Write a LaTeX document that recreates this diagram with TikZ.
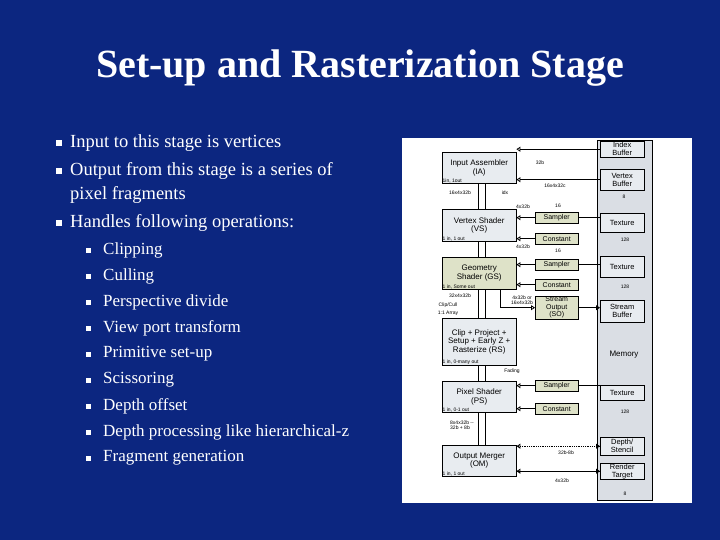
\documentclass[tikz,border=0pt]{standalone}
\usepackage{fontspec}
\setmainfont{Liberation Serif}
\newfontfamily\dsans{Liberation Sans}
\usetikzlibrary{arrows.meta}
\definecolor{bg}{RGB}{12,38,128}
\definecolor{memg}{RGB}{218,222,228}
\definecolor{boxg}{RGB}{232,236,240}
\definecolor{grn}{RGB}{222,226,200}
\begin{document}
\begin{tikzpicture}[x=1pt,y=-1pt,
  btxt/.style={text=white,anchor=west,font=\fontsize{18.5}{20}\selectfont,inner sep=0},
  stxt/.style={text=white,anchor=west,font=\fontsize{17}{19}\selectfont,inner sep=0},
  bul/.style={fill=white,minimum size=6pt,inner sep=0},
  sbul/.style={fill=white,minimum size=5pt,inner sep=0},
  stage/.style={draw=black,fill=boxg,minimum width=74pt,align=center,inner sep=1pt,font=\dsans\fontsize{8}{8.5}\selectfont,anchor=north west},
  mid/.style={draw=black,fill=grn,minimum width=43pt,align=center,inner sep=0.5pt,font=\dsans\fontsize{7}{7.5}\selectfont,anchor=north west},
  res/.style={draw=black,fill=boxg,minimum width=44pt,align=center,inner sep=0.5pt,font=\dsans\fontsize{7.5}{8}\selectfont,anchor=north west},
  lab/.style={font=\dsans\fontsize{5}{5.5}\selectfont,inner sep=0.5pt},
  ar/.style={-{Triangle[open,length=4pt,width=5pt]},thick},
  war/.style={-{Triangle[open,length=4pt,width=5pt]},thick,densely dotted}]
\useasboundingbox (0,0) rectangle (720,540);
\fill[bg] (0,0) rectangle (720,540);
\node (title) [text=white,font=\bfseries\fontsize{40}{42}\selectfont] at (360,68) {Set-up and Rasterization Stage};
% bullets
\node (b1) [bul] at (59,143) {}; \node (t1) [btxt] at (70,143) {Input to this stage is vertices};
\node (b2) [bul] at (59,171) {}; \node (t2) [btxt] at (70,171) {Output from this stage is a series of};
\node (t2b) [btxt] at (70,195) {pixel fragments};
\node (b3) [bul] at (59,223) {}; \node (t3) [btxt] at (70,223) {Handles following operations:};
\foreach \t [count=\i] in {Clipping,Culling,Perspective divide,View port transform,Primitive set-up,Scissoring,Depth offset,Depth processing like hierarchical-z,Fragment generation}{
  \node (sb\i) [sbul] at (88,{224+26*\i}) {};
  \node (st\i) [stxt] at (103,{224+26*\i}) {\t};
}
% diagram panel
\fill[white] (402,138) rectangle (692,503);
\fill[memg] (597,140) rectangle (652,500);
\draw (597,140) rectangle (652,500);
\node (mem) [font=\dsans\fontsize{8}{8}\selectfont] at (624,355) {Memory};
% bus
\draw[thick] (478,183) -- (478,445);
\draw[thick] (485,183) -- (485,445);
% stages
\node (ia) [stage,minimum height=31pt] at (442,152) {Input Assembler\\(IA)};
\node (vs) [stage,minimum height=32pt] at (442,209) {Vertex Shader\\(VS)};
\node (gs) [stage,fill=grn,minimum height=32pt] at (442,257) {Geometry\\Shader (GS)};
\node (rs) [stage,minimum height=47pt] at (442,318) {Clip + Project +\\Setup + Early Z +\\Rasterize (RS)};
\node (ps) [stage,minimum height=31pt] at (442,381) {Pixel Shader\\(PS)};
\node (om) [stage,minimum height=31pt] at (442,445) {Output Merger\\(OM)};
\foreach \n/\t in {ia/{1in, 1out},vs/{1 in, 1 out},gs/{1 in, Some out},rs/{1 in, 0-many out},ps/{1 in, 0-1 out},om/{1 in, 1 out}}
  \node [lab,anchor=south west] at (\n.south west) {\t};
% mid
\node (s1) [mid,minimum height=11pt] at (535,212) {Sampler};
\node (c1) [mid,minimum height=11pt] at (535,233) {Constant};
\node (s2) [mid,minimum height=11pt] at (535,259) {Sampler};
\node (c2) [mid,minimum height=11pt] at (535,279) {Constant};
\node (so) [mid,minimum height=23pt] at (535,296) {Stream\\Output\\(SO)};
\node (s3) [mid,minimum height=11pt] at (535,380) {Sampler};
\node (c3) [mid,minimum height=11pt] at (535,403) {Constant};
% resources
\node (ib) [res,minimum height=16pt] at (600,141) {Index\\Buffer};
\node (vb) [res,minimum height=21pt] at (600,169) {Vertex\\Buffer};
\node (tx1) [res,minimum height=19pt] at (600,213) {Texture};
\node (tx2) [res,minimum height=21pt] at (600,256) {Texture};
\node (sb) [res,minimum height=22pt] at (600,300) {Stream\\Buffer};
\node (tx3) [res,minimum height=15pt] at (600,385) {Texture};
\node (ds) [res,minimum height=18pt] at (600,437) {Depth/\\Stencil};
\node (rt) [res,minimum height=15pt] at (600,463) {Render\\Target};
% connectors
\draw[ar] (ib.west) -- (ib.west -| ia.east);
\draw[ar] (vb.west) -- (vb.west -| ia.east);
\draw[thick] (s1.east) -- (s1.east -| tx1.west);
\draw[ar] (s1.west) -- (s1.west -| vs.east);
\draw[ar] (c1.west) -- (c1.west -| vs.east);
\draw[thick] (s2.east) -- (s2.east -| tx2.west);
\draw[ar] (s2.west) -- (s2.west -| gs.east);
\draw[ar] (c2.west) -- (c2.west -| gs.east);
\coordinate (sotap) at (500,289);
\draw[ar] (sotap) |- (so.west);
\draw[ar] (so.east) -- (so.east -| sb.west);
\draw[thick] (s3.east) -- (s3.east -| tx3.west);
\draw[ar] (s3.west) -- (s3.west -| ps.east);
\draw[ar] (c3.west) -- (c3.west -| ps.east);
\draw[war] (ds.west) -- (ds.west -| om.east);
\draw[war] (om.east |- ds.west) -- (ds.west);
\draw[ar] (rt.west) -- (rt.west -| om.east);
\draw[ar] (om.east |- rt.west) -- (rt.west);
% labels
\node [lab] at (540,163) {32b};
\node [lab] at (555,186) {16x4x32c};
\node [lab] at (624,197) {8};
\node [lab] at (460,193) {16x4x32b};
\node [lab] at (505,193) {idx};
\node [lab] at (523,207) {4x32b};
\node [lab] at (558,206) {16};
\node [lab] at (523,247) {4x32b};
\node [lab] at (558,251) {16};
\node [lab] at (625,240) {128};
\node [lab] at (625,287) {128};
\node [lab] at (460,296) {32x4x32b};
\node [lab] at (448,305) {Clip/Cull};
\node [lab] at (448,313) {1:1 Array};
\node [lab,align=center] at (522,300) {4x32b or\\16x4x32b};
\node [lab] at (512,371) {Fading};
\node [lab,align=left] at (462,425) {8x4x32b --\\32b + 8b};
\node [lab] at (625,412) {128};
\node [lab] at (566,453) {32b-8b};
\node [lab] at (562,481) {4x32b};
\node [lab] at (625,494) {8};
\end{tikzpicture}
\end{document}
